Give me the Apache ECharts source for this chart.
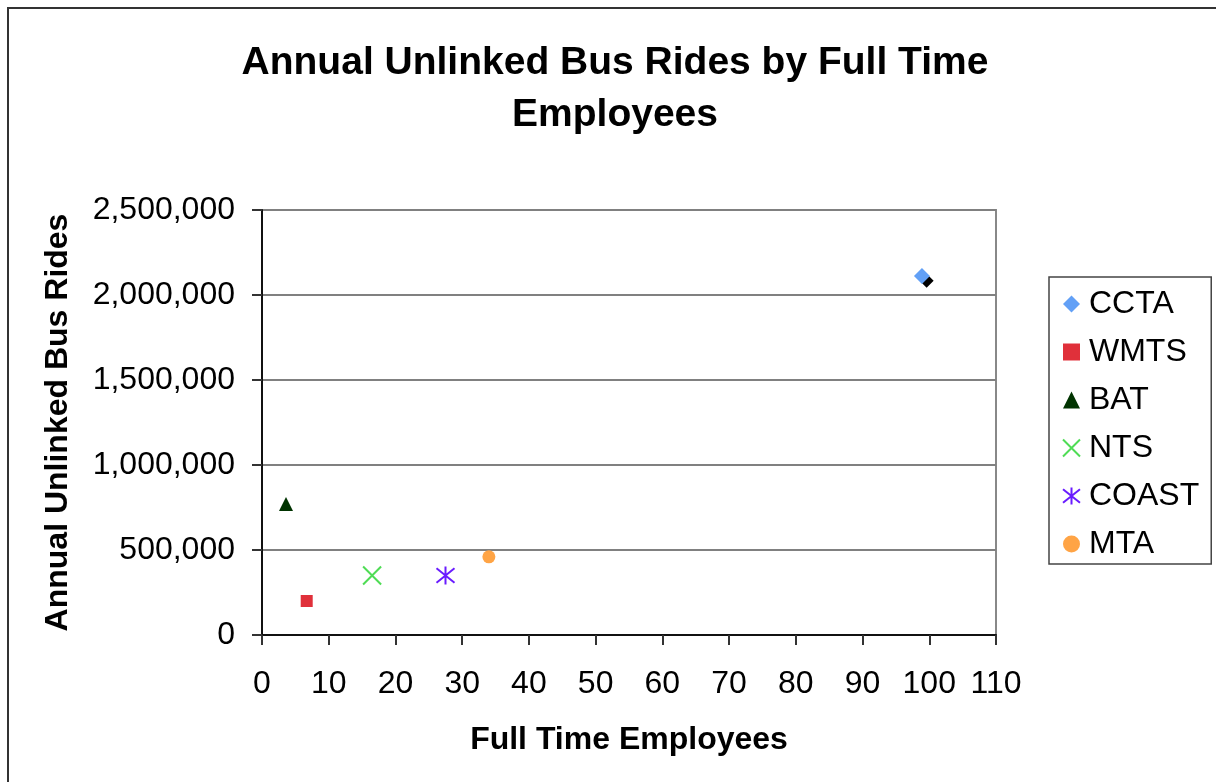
<!DOCTYPE html>
<html>
<head>
<meta charset="utf-8">
<title>Annual Unlinked Bus Rides by Full Time Employees</title>
<script src="https://cdn.jsdelivr.net/npm/echarts@6/dist/echarts.min.js"></script>
<style>
  html, body { margin: 0; padding: 0; background: #fff; }
  #chart { width: 1216px; height: 782px; }
</style>
</head>
<body>
<div id="chart"></div>
<script>
// Agencies: full time employees (x) and annual unlinked bus rides (y)
const agencies = ['CCTA', 'WMTS', 'BAT', 'NTS', 'COAST', 'MTA'];
const employees = [98.9, 6.7, 3.6, 16.5, 27.5, 34.0];
const rides = [2112000, 200000, 770000, 350000, 350000, 460000];
const colors = ['#62a0f6', '#e0303a', '#003300', '#4fdc55', '#6a1cff', '#ffa445'];

// Extra point sitting just behind CCTA (not listed in the legend)
const extraEmployees = [99.6];
const extraRides = [2084000];

const xTicks = { min: 0, max: 110, interval: 10 };
const yTicks = { min: 0, max: 2500000, interval: 500000 };

const FONT = '"Liberation Sans", Arial, sans-serif';

const symbols = [
  { symbol: 'diamond', size: 16, stroke: false },
  { symbol: 'rect', size: 12, stroke: false },
  { symbol: 'triangle', size: 14, stroke: false },
  { symbol: 'path://M0,0L10,10M10,0L0,10', size: 18, stroke: true },
  { symbol: 'path://M0,1L10,9M10,1L0,9M5,0L5,10', size: 18, stroke: true },
  { symbol: 'circle', size: 13, stroke: false }
];

function fmt(v) {
  return String(v).replace(/\B(?=(\d{3})+(?!\d))/g, ',');
}

const series = [{
  type: 'scatter',
  symbol: 'diamond',
  symbolSize: 14,
  itemStyle: { color: '#000000', opacity: 1 },
  z: 1,
  data: extraEmployees.map((x, i) => [x, extraRides[i]])
}];

agencies.forEach((name, i) => {
  const s = symbols[i];
  series.push({
    name: name,
    type: 'scatter',
    symbol: s.symbol,
    symbolSize: s.size,
    z: 2,
    itemStyle: s.stroke
      ? { color: 'rgba(0,0,0,0)', borderColor: colors[i], borderWidth: 2, opacity: 1 }
      : { color: colors[i], opacity: 1 },
    data: [[employees[i], rides[i]]]
  });
});

const chart = echarts.init(document.getElementById('chart'), null, { renderer: 'canvas' });

chart.setOption({
  animation: false,
  backgroundColor: '#ffffff',
  textStyle: { fontFamily: FONT, color: '#000' },
  title: {
    text: 'Annual Unlinked Bus Rides by Full Time\nEmployees',
    left: 610,
    top: 32,
    textAlign: 'center',
    textStyle: {
      fontFamily: FONT,
      fontSize: 39,
      fontWeight: 'bold',
      color: '#000',
      lineHeight: 52
    }
  },
  graphic: [{
    type: 'rect',
    shape: { x: 8, y: 8, width: 1400, height: 1000 },
    style: { fill: 'none', stroke: '#333', lineWidth: 2 },
    silent: true,
    z: 0
  }],
  grid: {
    left: 262,
    top: 210,
    width: 734,
    height: 425,
    show: true,
    borderColor: '#888',
    borderWidth: 2,
    backgroundColor: 'transparent'
  },
  legend: {
    orient: 'vertical',
    left: 1049,
    top: 277,
    data: agencies,
    padding: [11, 12, 4, 13],
    itemGap: 16,
    itemWidth: 17,
    itemHeight: 17,
    borderColor: '#444',
    borderWidth: 1.5,
    textStyle: { fontFamily: FONT, fontSize: 32, color: '#000', lineHeight: 32, padding: [0, 0, 0, 4] }
  },
  xAxis: {
    type: 'value',
    min: xTicks.min,
    max: xTicks.max,
    interval: xTicks.interval,
    name: 'Full Time Employees',
    nameLocation: 'middle',
    nameGap: 89,
    nameTextStyle: { fontFamily: FONT, fontSize: 32, fontWeight: 'bold', color: '#000' },
    axisLine: { show: true, onZero: false, lineStyle: { color: '#111', width: 2 } },
    axisTick: { show: true, length: 10, lineStyle: { color: '#333', width: 2 } },
    axisLabel: { fontFamily: FONT, fontSize: 32, color: '#000', margin: 33 },
    splitLine: { show: false }
  },
  yAxis: {
    type: 'value',
    min: yTicks.min,
    max: yTicks.max,
    interval: yTicks.interval,
    name: 'Annual Unlinked Bus Rides',
    nameLocation: 'middle',
    nameGap: 188,
    nameTextStyle: { fontFamily: FONT, fontSize: 32, fontWeight: 'bold', color: '#000' },
    axisLine: { show: true, onZero: false, lineStyle: { color: '#111', width: 2 } },
    axisTick: { show: true, length: 10, lineStyle: { color: '#333', width: 2 } },
    axisLabel: { fontFamily: FONT, fontSize: 32, color: '#000', margin: 27, padding: [6, 0, 0, 0], formatter: fmt },
    splitLine: { show: true, lineStyle: { color: '#808080', width: 2 } }
  },
  series: series
});
</script>
</body>
</html>
